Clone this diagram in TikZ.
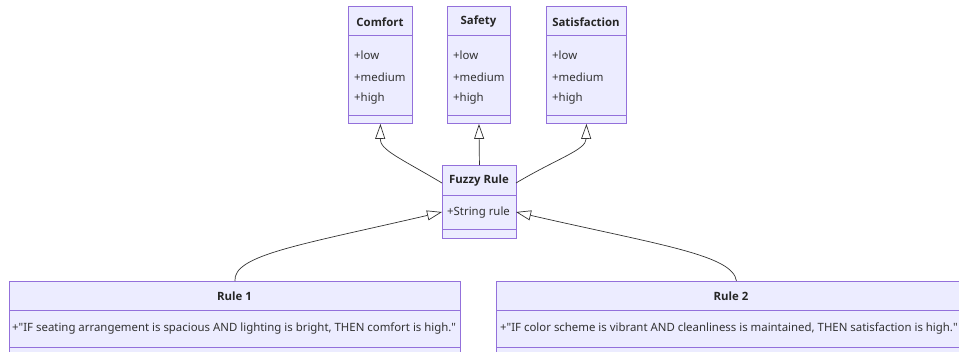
\documentclass[tikz,border=0pt]{standalone}
\usepackage{fontspec}
\setmainfont{Noto Sans}
\newfontfamily\headfont{Open Sans}
\usetikzlibrary{arrows.meta}
\definecolor{clsfill}{HTML}{ECECFF}
\definecolor{clsline}{HTML}{9370DB}
\definecolor{ink}{HTML}{333333}
% straight double quote, set as a glyph so no text mapping curls it
\newcommand{\dq}{\XeTeXglyph\XeTeXcharglyph"22\relax}
\tikzset{
  cls/.style={draw=clsline, fill=clsfill, line width=0.9pt, inner sep=0pt, anchor=north west},
  divider/.style={draw=clsline, line width=0.9pt},
  title/.style={font=\headfont\fontsize{11.4}{13}\selectfont\bfseries, text=black!85, inner sep=0pt},
  attr/.style={font=\fontsize{11.4}{13}\selectfont, text=ink, inner sep=0pt, anchor=west},
  inherit/.style={draw=ink, line width=0.7pt, -{Triangle[open, length=15pt, width=10pt, fill=white]}},
}
\begin{document}
\begin{tikzpicture}[x=1pt, y=-1pt]
\useasboundingbox (0,0) rectangle (959,351);
\begin{scope}
\clip (0,0) rectangle (959,351);

% Comfort
\node[cls, minimum width=64pt, minimum height=117pt] (comfort) at (348,6) {};
\draw[divider] (348,35) -- (412,35);
\draw[divider] (348,115) -- (412,115);
\node[title] (comfortT) at (380,22) {Comfort};
\node[attr] (comfortA) at (354,55) {+low};
\node[attr] (comfortB) at (354,77) {+medium};
\node[attr] (comfortC) at (354,99) {+high};

% Safety
\node[cls, minimum width=63pt, minimum height=117pt] (safety) at (447,6) {};
\draw[divider] (447,35) -- (510,35);
\draw[divider] (447,115) -- (510,115);
\node[title] (safetyT) at (478.5,22) {Safety};
\node[attr] (safetyA) at (453,55) {+low};
\node[attr] (safetyB) at (453,77) {+medium};
\node[attr] (safetyC) at (453,99) {+high};

% Satisfaction
\node[cls, minimum width=80pt, minimum height=117pt] (satisf) at (546,6) {};
\draw[divider] (546,35) -- (626,35);
\draw[divider] (546,115) -- (626,115);
\node[title] (satisfT) at (586,22) {Satisfaction};
\node[attr] (satisfA) at (552,55) {+low};
\node[attr] (satisfB) at (552,77) {+medium};
\node[attr] (satisfC) at (552,99) {+high};

% Fuzzy Rule
\node[cls, minimum width=74pt, minimum height=73pt] (fuzzy) at (442,165) {};
\draw[divider] (442,195) -- (516,195);
\draw[divider] (442,229) -- (516,229);
\node[title] (fuzzyT) at (479,181) {Fuzzy Rule};
\node[attr] (fuzzyA) at (447,213) {+String rule};
\coordinate (fuzzyLU) at (442,183);
\coordinate (fuzzyRU) at (516,183);
\coordinate (fuzzyLL) at (442,212);
\coordinate (fuzzyRL) at (516,212);

% Rule 1
\node[cls, minimum width=451pt, minimum height=80pt] (rule1) at (9,281) {};
\draw[divider] (9,310) -- (460,310);
\draw[divider] (9,347) -- (460,347);
\node[title] (rule1T) at (234.5,296) {Rule 1};
\node[attr] (rule1A) at (12,329) {+\dq IF seating arrangement is spacious AND lighting is bright, THEN comfort is high.\dq};

% Rule 2
\node[cls, minimum width=480pt, minimum height=80pt] (rule2) at (496,281) {};
\draw[divider] (496,310) -- (976,310);
\draw[divider] (496,347) -- (976,347);
\node[title] (rule2T) at (731,296) {Rule 2};
\node[attr] (rule2A) at (500,329) {+\dq IF color scheme is vibrant AND cleanliness is maintained, THEN satisfaction is high.\dq};

% Inheritance connectors
\draw[inherit] (fuzzyLU) .. controls (400,158) and (380,150) .. (comfort.south);
\draw[inherit] (fuzzy.north) -- (safety.south);
\draw[inherit] (fuzzyRU) .. controls (558,158) and (586,150) .. (satisf.south);
\draw[inherit] (rule1.north) .. controls (233,255) and (300,245) .. (fuzzyLL);
\draw[inherit] (rule2.north) .. controls (733,255) and (660,245) .. (fuzzyRL);
\end{scope}
\end{tikzpicture}
\end{document}
